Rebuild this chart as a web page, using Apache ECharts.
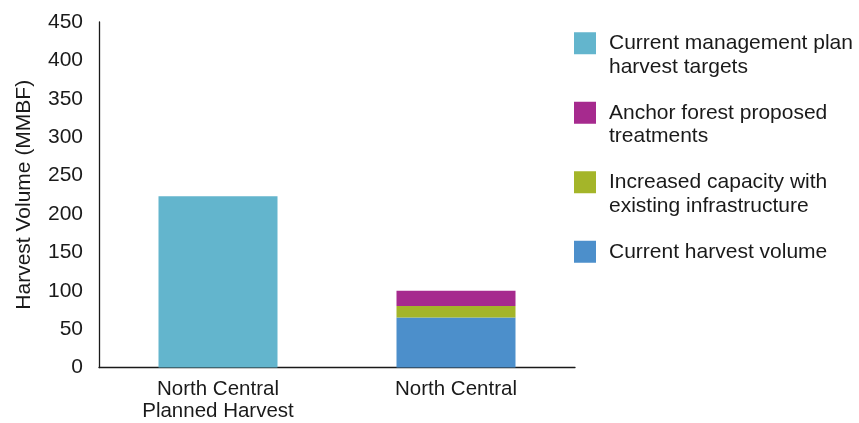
<!DOCTYPE html>
<html>
<head>
<meta charset="utf-8">
<script src="https://cdn.jsdelivr.net/npm/echarts@6/dist/echarts.min.js"></script>
<style>
  html, body { margin: 0; padding: 0; background: #ffffff; }
  #chart { width: 859px; height: 423px; }
</style>
</head>
<body>
<div id="chart"></div>
<script>
// Harvest volume by scenario (MMBF)
const categories = ['North Central\nPlanned Harvest', 'North Central'];
const planTargets = [223, null];          // Current management plan harvest targets
const currentVolume = [null, 65];         // Current harvest volume
const increasedCapacity = [null, 15];     // Increased capacity with existing infrastructure
const anchorTreatments = [null, 20];      // Anchor forest proposed treatments
const yTicks = { min: 0, max: 450, interval: 50 };

const legendOrder = [
  'Current management plan\nharvest targets',
  'Anchor forest proposed\ntreatments',
  'Increased capacity with\nexisting infrastructure',
  'Current harvest volume'
];

const FONT = '"Liberation Sans", Arial, Helvetica, sans-serif';
const LINE_H = 23.5;

const chart = echarts.init(document.getElementById('chart'), null, { renderer: 'canvas' });

chart.setOption({
  animation: false,
  backgroundColor: '#ffffff',
  textStyle: { fontFamily: FONT },
  grid: { left: 99, right: 284, top: 22, bottom: 55.5, containLabel: false },
  legend: {
    orient: 'vertical',
    left: 569,
    top: 3,
    itemWidth: 22,
    itemHeight: 22,
    itemGap: -1,
    icon: 'rect',
    data: legendOrder,
    // every entry is a three-line block (blank, name, second line or blank)
    // so the first line sits level with the swatch and entries are evenly spaced
    formatter: function (name) {
      return name.indexOf('\n') >= 0 ? '\n' + name : '\n' + name + '\n ';
    },
    textStyle: {
      fontFamily: FONT,
      fontSize: 21,
      color: '#1a1a1a',
      lineHeight: LINE_H,
      padding: [0, 0, 0, 8]
    }
  },
  xAxis: {
    type: 'category',
    data: categories,
    axisLine: { show: true, lineStyle: { color: '#1a1a1a', width: 1.3 } },
    axisTick: { show: false },
    axisLabel: {
      fontFamily: FONT,
      fontSize: 20.5,
      color: '#1a1a1a',
      lineHeight: 22,
      margin: 11,
      interval: 0
    }
  },
  yAxis: {
    type: 'value',
    min: yTicks.min,
    max: yTicks.max,
    interval: yTicks.interval,
    name: 'Harvest Volume (MMBF)',
    nameLocation: 'middle',
    nameGap: 64,
    nameTextStyle: { fontFamily: FONT, fontSize: 21, color: '#1a1a1a' },
    axisLine: { show: true, lineStyle: { color: '#1a1a1a', width: 1.3 } },
    axisTick: { show: false },
    splitLine: { show: false },
    axisLabel: { fontFamily: FONT, fontSize: 21, color: '#1a1a1a', margin: 16 }
  },
  series: [
    {
      name: legendOrder[0],
      type: 'bar',
      stack: 'total',
      barWidth: '50%',
      data: planTargets,
      itemStyle: { color: '#63B5CD' }
    },
    {
      name: legendOrder[3],
      type: 'bar',
      stack: 'total',
      data: currentVolume,
      itemStyle: { color: '#4C8FCB' }
    },
    {
      name: legendOrder[2],
      type: 'bar',
      stack: 'total',
      data: increasedCapacity,
      itemStyle: { color: '#A4B529' }
    },
    {
      name: legendOrder[1],
      type: 'bar',
      stack: 'total',
      data: anchorTreatments,
      itemStyle: { color: '#A62A8E' }
    }
  ]
});
</script>
</body>
</html>
